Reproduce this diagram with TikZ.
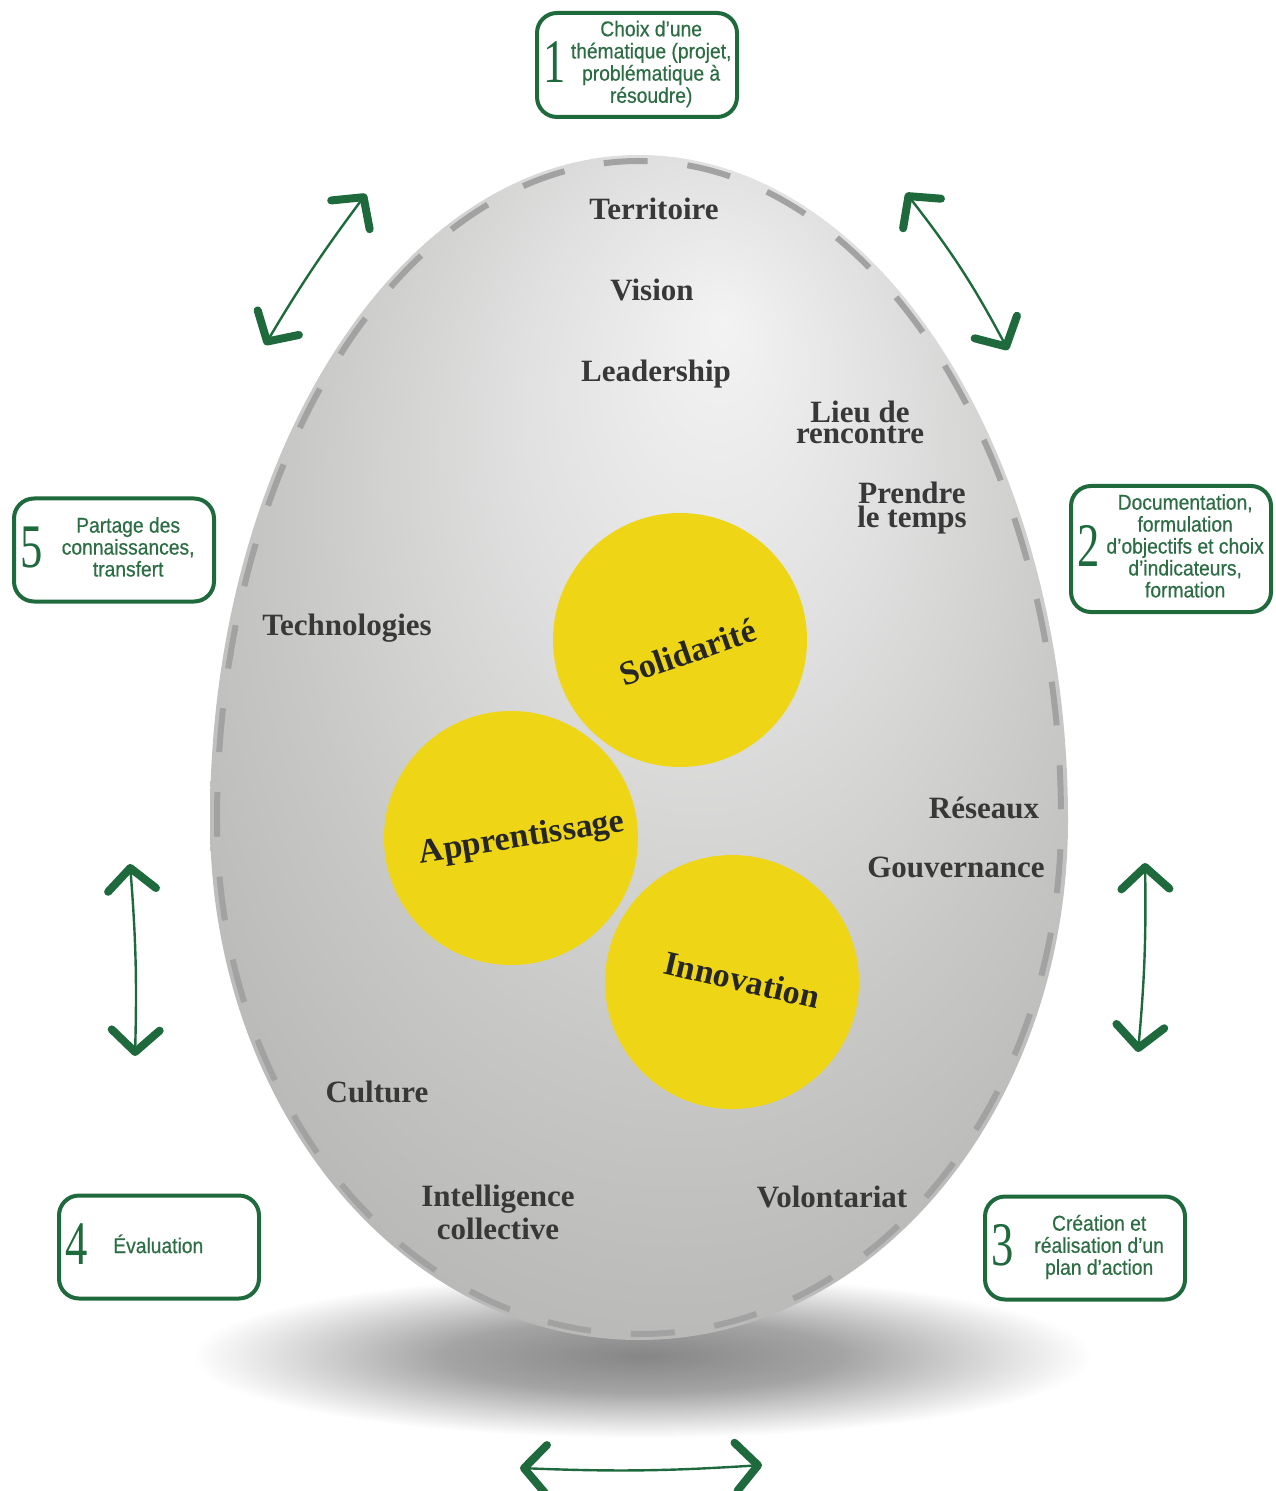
\documentclass[tikz,border=0pt]{standalone}
\usepackage{fontspec}
\setmainfont{Liberation Serif}
\newfontfamily\boxfont[FakeStretch=0.9,FakeBold=0.5]{Liberation Sans}
\newfontfamily\numfont[FakeStretch=0.72]{Liberation Serif}
\usetikzlibrary{arrows.meta}
\definecolor{dkgreen}{HTML}{1F6A3D}
\definecolor{boxtext}{HTML}{2C6D44}
\definecolor{yel}{HTML}{EED617}
\definecolor{lbl}{HTML}{383838}
\definecolor{dashgray}{HTML}{A2A2A2}
\definecolor{eggA}{HTML}{F3F3F3}
\definecolor{eggB}{HTML}{E0E0E0}
\definecolor{eggC}{HTML}{C8C8C6}
\definecolor{eggD}{HTML}{B4B4B2}
\definecolor{eggE}{HTML}{B8B8B6}
\definecolor{shA}{HTML}{868686}
\definecolor{shB}{HTML}{A4A4A4}
\pgfdeclareradialshading{eggshade}{\pgfpoint{5bp}{18bp}}{color(0bp)=(eggA); color(11bp)=(eggB); color(23bp)=(eggC); color(35bp)=(eggD); color(50bp)=(eggE)}
\pgfdeclareradialshading{shadowshade}{\pgfpoint{0bp}{0bp}}{color(0bp)=(shA); color(11bp)=(shB); color(25bp)=(white); color(50bp)=(white)}
\newcommand{\stepcontent}[4]{\makebox[#1][l]{\hspace{3pt}\begin{tabular}{@{}c@{}}\numfont\fontsize{31}{31}\selectfont\color{dkgreen}#2\end{tabular}#3\begin{tabular}{@{}c@{}}#4\end{tabular}\hfill}}
\tikzset{
  lbltext/.style={font=\fontsize{15.5}{15.5}\selectfont\bfseries, text=lbl, align=center, inner sep=0pt},
  yelcirc/.style={circle, fill=yel, minimum size=127pt, inner sep=0pt},
  circlbl/.style={font=\fontsize{17}{17}\selectfont\bfseries, text=black!85, inner sep=0pt},
  stepbox/.style={draw=dkgreen, line width=2pt, rounded corners=10pt, fill=white, inner sep=0pt,
     font=\boxfont\fontsize{10.7}{10.7}\selectfont, text=boxtext, minimum width=100pt},
  arr/.style={draw=dkgreen, line width=1.2pt,
    {Straight Barb[length=11pt,width=24pt,line width=4pt,round]}-{Straight Barb[length=11pt,width=24pt,line width=4pt,round]}}
}
\begin{document}
\begin{tikzpicture}[x=0.5pt,y=-0.5pt]
\useasboundingbox (0,0) rectangle (1275,1491);
% shadow
\path[shading=shadowshade] (642,1356) ellipse[x radius=450, y radius=82];
% egg
\path[shading=eggshade] (210,820) arc[start angle=180,end angle=360,x radius=429,y radius=665]
  arc[start angle=0,end angle=180,x radius=429,y radius=520] -- cycle;
% dashed border
\draw[dashgray, line width=3pt, dash pattern=on 22pt off 20pt, dash phase=8pt] (217,820) arc[start angle=180,end angle=360,x radius=422,y radius=659]
  arc[start angle=0,end angle=180,x radius=422,y radius=514] -- cycle;
% circles
\node[yelcirc] (sol) at (680,640) {};
\node[yelcirc] (app) at (511,838) {};
\node[yelcirc] (inn) at (732,982) {};
\node[circlbl, rotate=19] (solt) at ([shift={(8,12)}]sol.center) {Solidarité};
\node[circlbl, rotate=9] (appt) at ([shift={(11,1)}]app.center) {Apprentissage};
\node[circlbl, rotate=-13] (innt) at ([shift={(10,-2)}]inn.center) {Innovation};
% labels
\node[lbltext] (l1) at (654,209) {Territoire};
\node[lbltext] (l2) at (652,290) {Vision};
\node[lbltext] (l3) at (656,374) {Leadership};
\node[lbltext, font=\fontsize{15.5}{10.5}\selectfont\bfseries] (l4) at (860,422) {Lieu de\\rencontre};
\node[lbltext, font=\fontsize{15.5}{12}\selectfont\bfseries] (l5) at (912,508) {Prendre\\le temps};
\node[lbltext] (l6) at (347,628) {Technologies};
\node[lbltext] (l7) at (984,808) {Réseaux};
\node[lbltext] (l8) at (956,867) {Gouvernance};
\node[lbltext] (l9) at (377,1092) {Culture};
\node[lbltext, font=\fontsize{15.5}{16.5}\selectfont\bfseries] (l10) at (498,1212) {Intelligence\\collective};
\node[lbltext] (l11) at (832,1197) {Volontariat};
% boxes
\node[stepbox, minimum height=52pt] (b1) at (637,65)
  {\stepcontent{100pt}{1}{\hfill}{Choix d’une\\thématique (projet,\\problématique à\\résoudre)}};
\node[stepbox, minimum height=63pt] (b2) at (1171,549)
  {\stepcontent{100pt}{2}{\hfill}{Documentation,\\formulation\\d’objectifs et choix\\d’indicateurs,\\formation}};
\node[stepbox, minimum height=51.5pt] (b3) at (1085,1248)
  {\stepcontent{100pt}{3}{\hfill}{Création et\\réalisation d’un\\plan d’action}};
\node[stepbox, minimum height=51.5pt] (b4) at (159,1247)
  {\stepcontent{100pt}{4}{\hspace{13pt}}{Évaluation}};
\node[stepbox, minimum height=51.5pt] (b5) at (114,550)
  {\stepcontent{100pt}{5}{\hfill}{Partage des\\connaissances,\\transfert}};
% arrows
\coordinate (a1s) at (265,345);
\coordinate (a1e) at (366,194);
\coordinate (a2s) at (906,193);
\coordinate (a2e) at (1008,350);
\coordinate (a3s) at (1145,863);
\coordinate (a3e) at (1138,1052);
\coordinate (a4s) at (762,1465);
\coordinate (a4e) at (520,1468);
\coordinate (a5s) at (135,1056);
\coordinate (a5e) at (130,864);
\draw[arr] (a1s) to[bend left=3] (a1e);
\draw[arr] (a2s) to[bend left=5] (a2e);
\draw[arr] (a3s) to[bend left=3] (a3e);
\draw[arr] (a4s) to[bend left=3] (a4e);
\draw[arr] (a5s) to[bend right=3] (a5e);
\end{tikzpicture}
\end{document}
